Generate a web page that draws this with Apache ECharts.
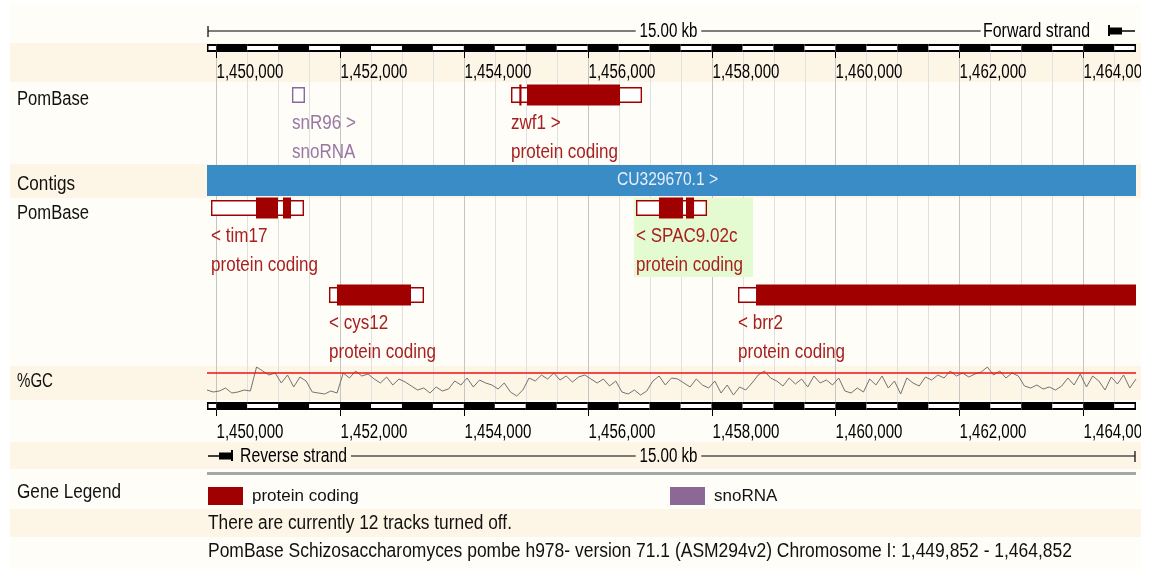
<!DOCTYPE html>
<html><head><meta charset="utf-8">
<script src="https://cdn.jsdelivr.net/npm/echarts@6/dist/echarts.min.js"></script>
<style>html,body{margin:0;padding:0;background:#fff}#c{width:1156px;height:569px}</style>
</head><body><div id="c"></div>
<script>
// ---------------- DATA ----------------
const XMIN = 1449852, XMAX = 1464852;
const tickPositions = [1450000,1452000,1454000,1456000,1458000,1460000,1462000,1464000];
const tickLabels = ['1,450,000','1,452,000','1,454,000','1,456,000','1,458,000','1,460,000','1,462,000','1,464,000'];
const gridPositions = [1450000,1450500,1451000,1451500,1452000,1452500,1453000,1453500,1454000,1454500,1455000,1455500,1456000,1456500,1457000,1457500,1458000,1458500,1459000,1459500,1460000,1460500,1461000,1461500,1462000,1462500,1463000,1463500,1464000,1464500];
const rulerBoundaries = [XMIN].concat(gridPositions).concat([XMAX]);

const geneNames   = ['snR96','zwf1','tim17','SPAC9.02c','cys12','brr2'];
const geneBiotype = ['snoRNA','protein coding','protein coding','protein coding','protein coding','protein coding'];
const geneStrand  = ['+','+','-','-','-','-'];
const geneRow     = [0,0,1,1,2,2];
const geneStart   = [1451224,1454761,1449917,1456779,1451822,1458426];
const geneEnd     = [1451434,1456876,1451418,1457926,1453356,1464852];
const geneExons   = [[], [[1454895,1454930],[1455019,1456521]], [[1450643,1450998],[1451079,1451208]], [[1457150,1457538],[1457586,1457716]], [[1451951,1453146]], [[1458717,1464852]]];
const highlightGene = 'SPAC9.02c';
const highlightRange = [1456747,1458668];

const contigName = 'CU329670.1 >';

const gcValues = [33,31,32,35,30,31,33,32,
 56,52,48,50,
 40,48,36,46,42,
 31,30,29,32,30,
 50,45,52,47,49,
 44,40,46,38,44,41,37,
 33,35,30,36,32,34,
 42,38,45,36,43,40,
 38,34,40,31,27,33,
 45,42,48,44,50,43,47,41,46,48,44,
 40,44,37,42,
 31,29,33,28,32,
 42,47,38,45,44,
 40,36,44,38,35,42,
 30,38,28,36,33,40,
 48,52,45,
 42,37,45,39,44,36,47,40,43,38,45,
 32,30,35,31,
 44,38,47,35,42,29,45,40,37,46,43,
 48,45,52,47,50,46,49,51,56,48,52,45,50,47,
 37,35,38,34,36,33,37,
 45,38,49,36,47,42,33,46,39,48,35,44];
const gcStep = 100;
const gcThreshold = 50;

// ---------------- STYLE / LAYOUT ----------------
const FF = "'Liberation Sans',Arimo,Arial,sans-serif";
const f = s => s + 'px ' + FF;
const RED = '#a00000', RED_TXT = '#a81f1f', PURPLE = '#8b6895', PURPLE_TXT = '#9877a5';
const BLUE = '#3a8cc7', GREEN = '#e4fbd2';
const LIGHT = '#fffdf8', BEIGE = '#fdf5e6';
const ROW_Y = [95, 208, 295];
const L = { topScaleY: 31, topBarY: 44, barH: 8, topLabelY: 72, gridTop: 52, gridBottom: 402,
  contigY: 165, contigH: 31, botBarY: 402, botLabelY: 432, botScaleY: 456 };

const _ctx = document.createElement('canvas').getContext('2d');
function fit(text, size, w) { _ctx.font = f(size); return w / _ctx.measureText(text).width; }

function X(api, bp) { return api.coord([bp, 0])[0]; }
function txt(x, y, text, size, fill, align, scale, extra) {
  return { type: 'text', x, y, scaleX: scale, scaleY: 1,
    style: Object.assign({ text, x: 0, y: 0, font: f(size), fill,
      align: align || 'left', textAlign: align || 'left', verticalAlign: 'middle', textVerticalAlign: 'middle' }, extra || {}) };
}

const S_TICK = fit('1,450,000', 20, 67);
const S_KB = fit('15.00 kb', 20, 58);
const S_FWD = fit('Forward strand', 20, 107);
const S_REV = fit('Reverse strand', 20, 107);
const S_CONTIG = fit(contigName, 18, 101);
const S_GENE = fit('protein coding', 20, 107);

// grid lines
function renderGrid(params, api) {
  const p = api.value(0), x = Math.round(X(api, p)) + 0.5;
  const major = tickPositions.indexOf(p) >= 0;
  return { type: 'line', shape: { x1: x, y1: L.gridTop, x2: x, y2: L.gridBottom },
    style: { stroke: major ? '#c4c4c4' : '#e0e0e0', lineWidth: 1 } };
}
// ruler segments
function renderSeg(params, api) {
  const s = api.value(0), e = api.value(1);
  const xs = X(api, s), xe = X(api, e);
  const xmin = X(api, XMIN), xmax = X(api, XMAX);
  const black = Math.floor(s / 500) % 2 === 0;
  const ch = [];
  [L.topBarY, L.botBarY].forEach(y0 => {
    ch.push({ type: 'rect', shape: { x: xs, y: y0, width: xe - xs, height: L.barH }, style: { fill: '#000' } });
    if (!black) {
      const a = Math.max(xs, xmin + 1.5), b = Math.min(xe, xmax - 1.5);
      ch.push({ type: 'rect', shape: { x: a, y: y0 + 2, width: b - a, height: L.barH - 4 }, style: { fill: '#fff' } });
    }
  });
  return { type: 'group', children: ch };
}
// ticks and labels
function renderTick(params, api) {
  const i = params.dataIndex, x = Math.round(X(api, api.value(0))) + 0.5;
  return { type: 'group', children: [
    { type: 'line', shape: { x1: x, y1: L.topBarY + L.barH, x2: x, y2: L.topBarY + L.barH + 6 }, style: { stroke: '#000', lineWidth: 1 } },
    { type: 'line', shape: { x1: x, y1: L.botBarY + L.barH, x2: x, y2: L.botBarY + L.barH + 6 }, style: { stroke: '#000', lineWidth: 1 } },
    txt(x, L.topLabelY, tickLabels[i], 20, '#000', 'left', S_TICK),
    txt(x, L.botLabelY, tickLabels[i], 20, '#000', 'left', S_TICK)
  ]};
}
// scale bars
function renderScale(params, api) {
  const xl = X(api, api.value(0)) + 1, xr = X(api, api.value(1)) - 1;
  const xm = (xl + xr) / 2 - 3;
  const ty = L.topScaleY, by = L.botScaleY;
  return { type: 'group', children: [
    { type: 'line', shape: { x1: xl, y1: ty, x2: xr - 40, y2: ty }, style: { stroke: '#000', lineWidth: 1.2 } },
    { type: 'line', shape: { x1: xl, y1: ty - 5, x2: xl, y2: ty + 6 }, style: { stroke: '#000', lineWidth: 1.2 } },
    txt(xm, ty, '15.00 kb', 20, '#000', 'center', S_KB, { backgroundColor: LIGHT, padding: [0, 5] }),
    txt(xr - 37, ty, 'Forward strand', 20, '#000', 'right', S_FWD, { backgroundColor: LIGHT, padding: [0, 10, 0, 3] }),
    { type: 'rect', shape: { x: xr - 27, y: ty - 6, width: 2, height: 11 }, style: { fill: '#000' } },
    { type: 'rect', shape: { x: xr - 25, y: ty - 3.5, width: 12, height: 7 }, style: { fill: '#000' } },
    { type: 'line', shape: { x1: xr - 13, y1: ty, x2: xr, y2: ty }, style: { stroke: '#000', lineWidth: 1.5 } },

    { type: 'line', shape: { x1: xl + 143, y1: by, x2: xr, y2: by }, style: { stroke: '#000', lineWidth: 1.2 } },
    { type: 'line', shape: { x1: xr, y1: by - 5, x2: xr, y2: by + 6 }, style: { stroke: '#000', lineWidth: 1.2 } },
    txt(xm, by, '15.00 kb', 20, '#000', 'center', S_KB, { backgroundColor: BEIGE, padding: [0, 5] }),
    { type: 'line', shape: { x1: xl, y1: by, x2: xl + 11, y2: by }, style: { stroke: '#000', lineWidth: 1.5 } },
    { type: 'rect', shape: { x: xl + 11, y: by - 3.5, width: 12, height: 7 }, style: { fill: '#000' } },
    { type: 'rect', shape: { x: xl + 23, y: by - 6, width: 2, height: 11 }, style: { fill: '#000' } },
    txt(xl + 32, by, 'Reverse strand', 20, '#000', 'left', S_REV)
  ]};
}
// contig
function renderContig(params, api) {
  const xl = X(api, api.value(0)), xr = X(api, api.value(1));
  return { type: 'group', children: [
    { type: 'rect', shape: { x: xl, y: L.contigY, width: xr - xl, height: L.contigH }, style: { fill: BLUE } },
    txt((xl + xr) / 2 - 4, L.contigY + L.contigH / 2, contigName, 18, '#e6eefa', 'center', S_CONTIG)
  ]};
}
// genes
function renderGene(params, api) {
  const i = api.value(2);
  const cy = ROW_Y[geneRow[i]];
  const sno = geneBiotype[i] === 'snoRNA';
  const col = sno ? PURPLE : RED, tcol = sno ? PURPLE_TXT : RED_TXT;
  const x0 = X(api, geneStart[i]), x1 = X(api, geneEnd[i]);
  const ch = [];
  if (geneNames[i] === highlightGene) {
    const h0 = X(api, highlightRange[0]), h1 = X(api, highlightRange[1]);
    ch.push({ type: 'rect', shape: { x: h0, y: cy - 10, width: h1 - h0, height: 79 }, style: { fill: GREEN } });
  }
  ch.push({ type: 'rect', shape: { x: x0 + 0.7, y: cy - 7.3, width: x1 - x0 - 1.4, height: 14.6 }, style: { fill: '#fff', stroke: col, lineWidth: 1.4 } });
  geneExons[i].forEach(e => {
    const a = X(api, e[0]), b = X(api, e[1]);
    ch.push({ type: 'rect', shape: { x: a, y: cy - 10.5, width: b - a, height: 21 }, style: { fill: col } });
  });
  const label = geneStrand[i] === '+' ? geneNames[i] + ' >' : '< ' + geneNames[i];
  ch.push(txt(x0, cy + 28, label, 20, tcol, 'left', S_GENE));
  ch.push(txt(x0, cy + 57, geneBiotype[i], 20, tcol, 'left', S_GENE));
  return { type: 'group', children: ch };
}

const segData = [];
for (let k = 0; k < rulerBoundaries.length - 1; k++) segData.push([rulerBoundaries[k], rulerBoundaries[k + 1]]);
const geneData = bt => geneNames.map((n, i) => [geneStart[i], geneEnd[i], i]).filter(d => geneBiotype[d[2]] === bt);
const gcData = gcValues.map((v, i) => [XMIN + i * gcStep, v]);

// ---------------- GRAPHIC (layout decorations) ----------------
const bands = [[43, 82], [164, 198], [366, 400], [442, 469], [509, 537]];
const g = [{ type: 'rect', shape: { x: 10, y: 3, width: 1131, height: 566 }, style: { fill: LIGHT }, z: -10 }]
  .concat(bands.map(b => ({ type: 'rect', shape: { x: 10, y: b[0], width: 1131, height: b[1] - b[0] }, style: { fill: BEIGE }, z: -9 })));
function gtext(x, y, text, size, w) {
  return { type: 'text', x, y, scaleX: fit(text, size, w), style: { text, x: 0, y: 0, font: f(size), fill: '#111', textVerticalAlign: 'middle', verticalAlign: 'middle' } };
}
const leftLabels = [['PomBase', 99, 72], ['Contigs', 184, 58], ['PomBase', 213, 72], ['%GC', 381, 36], ['Gene Legend', 492, 104]];
leftLabels.forEach(l => g.push(gtext(17, l[1], l[0], 20, l[2])));
g.push({ type: 'rect', shape: { x: 207, y: 472, width: 929, height: 3 }, style: { fill: '#a6a6a6' } });
g.push(gtext(208, 523, 'There are currently 12 tracks turned off.', 20, 304));
g.push(gtext(208, 551, 'PomBase Schizosaccharomyces pombe h978- version 71.1 (ASM294v2) Chromosome I: 1,449,852 - 1,464,852', 20, 864));
// right margin of the page (clips the last ruler labels like the original panel edge)
g.push({ type: 'rect', shape: { x: 1141, y: 0, width: 15, height: 569 }, style: { fill: '#ffffff' }, z: 100 });

const legendBase = { orient: 'horizontal', top: 487, padding: 0, itemWidth: 35, itemHeight: 18, icon: 'rect', selectedMode: false,
  textStyle: { fontFamily: FF, fontSize: 17, color: '#111', padding: [0, 0, 0, 4] } };

const chart = echarts.init(document.getElementById('c'));
chart.setOption({
  animation: false,
  backgroundColor: '#ffffff',
  graphic: { elements: g },
  legend: [Object.assign({ data: ['protein coding'], left: 208 }, legendBase), Object.assign({ data: ['snoRNA'], left: 670 }, legendBase)],
  grid: [{ left: 207, right: 20, top: 0, bottom: 0 }, { left: 207, right: 20, top: 363, height: 35 }],
  xAxis: [{ type: 'value', min: XMIN, max: XMAX, show: false, gridIndex: 0 }, { type: 'value', min: XMIN, max: XMAX, show: false, gridIndex: 1 }],
  yAxis: [{ type: 'value', min: 0, max: 569, inverse: true, show: false, gridIndex: 0 }, { type: 'value', min: 25, max: 60, show: false, gridIndex: 1 }],
  series: [
    { type: 'custom', name: 'grid', silent: true, z: 1, data: gridPositions.map(p => [p]), encode: { x: 0 }, renderItem: renderGrid },
    { type: 'line', name: 'GC', xAxisIndex: 1, yAxisIndex: 1, z: 2, silent: true, showSymbol: false, data: gcData,
      lineStyle: { color: '#737373', width: 1 },
      markLine: { silent: true, symbol: 'none', label: { show: false }, data: [{ yAxis: gcThreshold }], lineStyle: { color: '#ee1111', width: 1.6, type: 'solid' } } },
    { type: 'custom', name: 'ruler', silent: true, z: 3, data: segData, encode: { x: [0, 1] }, renderItem: renderSeg },
    { type: 'custom', name: 'ticks', silent: true, z: 3, data: tickPositions.map(p => [p]), encode: { x: 0 }, renderItem: renderTick },
    { type: 'custom', name: 'scale', silent: true, z: 3, data: [[XMIN, XMAX]], encode: { x: [0, 1] }, renderItem: renderScale },
    { type: 'custom', name: 'contig', silent: true, z: 3, data: [[XMIN, XMAX]], encode: { x: [0, 1] }, renderItem: renderContig },
    { type: 'custom', name: 'protein coding', silent: true, z: 4, itemStyle: { color: RED }, data: geneData('protein coding'), encode: { x: [0, 1] }, renderItem: renderGene },
    { type: 'custom', name: 'snoRNA', silent: true, z: 4, itemStyle: { color: PURPLE }, data: geneData('snoRNA'), encode: { x: [0, 1] }, renderItem: renderGene }
  ]
});
</script></body></html>
